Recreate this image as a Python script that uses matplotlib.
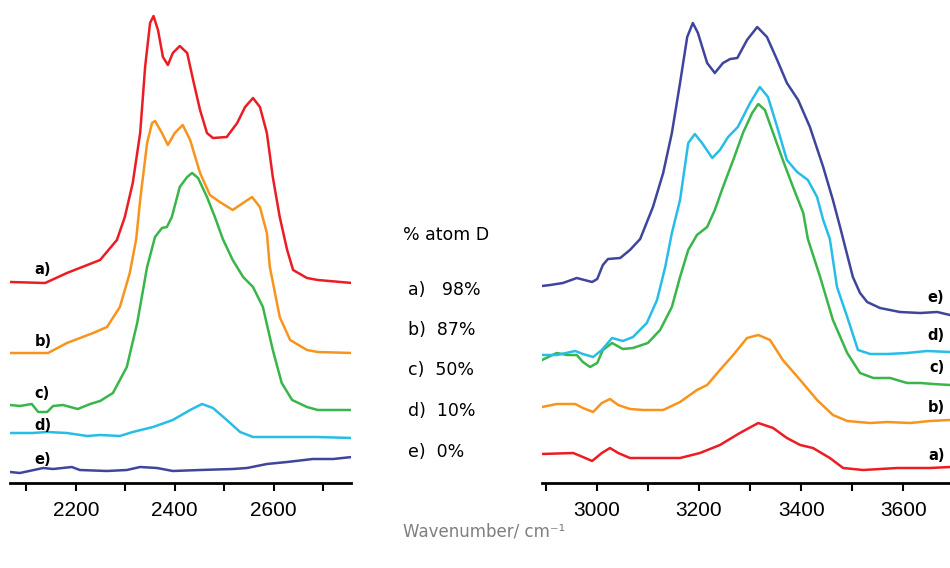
import matplotlib.pyplot as plt
import numpy as np

# --- left panel: O-D stretch region (wavenumber, intensity in arbitrary units) ---
wn_a_L = [2067, 2138, 2182, 2249, 2283, 2299, 2315, 2330, 2340, 2350, 2357, 2366, 2376, 2386, 2396,
          2410, 2425, 2437, 2451, 2465, 2477, 2505, 2526, 2542, 2558, 2572, 2586, 2598, 2612, 2627,
          2639, 2667, 2689, 2758]
a_L = [201, 200, 210, 223, 243, 266, 300, 350, 416, 460, 467, 453, 426, 418, 430,
       437, 430, 403, 373, 350, 345, 346, 360, 376, 385, 376, 350, 306, 266, 233,
       213, 205, 203, 200]

wn_b_L = [2067, 2122, 2144, 2182, 2235, 2263, 2289, 2309, 2322, 2330, 2344, 2354, 2360, 2374, 2386,
          2400, 2416, 2431, 2451, 2471, 2491, 2517, 2538, 2556, 2572, 2586, 2592, 2612, 2633, 2667,
          2689, 2758]
b_L = [130, 130, 130, 140, 150, 156, 176, 210, 244, 283, 340, 360, 362, 350, 338,
       350, 358, 343, 310, 288, 281, 273, 280, 286, 276, 250, 216, 166, 143, 133,
       131, 130]

wn_c_L = [2067, 2087, 2111, 2124, 2142, 2154, 2174, 2204, 2229, 2249, 2275, 2303, 2324, 2344, 2360,
          2374, 2384, 2394, 2410, 2425, 2435, 2447, 2465, 2481, 2497, 2517, 2538, 2558, 2578, 2598,
          2616, 2637, 2667, 2689, 2758]
c_L = [78, 77, 79, 71, 71, 77, 78, 74, 79, 82, 90, 116, 160, 216, 246,
       255, 256, 266, 296, 306, 310, 305, 286, 266, 244, 223, 206, 196, 176, 133,
       100, 83, 76, 73, 73]

wn_d_L = [2067, 2113, 2142, 2182, 2223, 2249, 2289, 2315, 2356, 2396, 2431, 2455, 2477, 2505, 2532,
          2558, 2598, 2687, 2758]
d_L = [50, 50, 51, 50, 47, 48, 47, 51, 56, 63, 73, 79, 75, 63, 51,
       46, 46, 46, 45]

wn_e_L = [2067, 2087, 2134, 2154, 2192, 2208, 2263, 2303, 2330, 2364, 2396, 2451, 2517, 2546, 2586,
          2627, 2679, 2720, 2758]
e_L = [11, 10, 15, 14, 16, 13, 12, 13, 16, 15, 12, 13, 14, 15, 19,
       21, 24, 24, 26]

# --- right panel: O-H stretch region ---
wn_a_R = [2893, 2954, 2973, 2991, 3010, 3026, 3042, 3065, 3091, 3163, 3202, 3241, 3280, 3316, 3345,
          3372, 3398, 3423, 3456, 3482, 3521, 3588, 3652, 3691]
a_R = [29, 30, 26, 22, 30, 35, 30, 25, 25, 25, 30, 38, 50, 60, 55,
       45, 38, 35, 25, 15, 13, 15, 15, 16]

wn_b_R = [2893, 2922, 2958, 2973, 2993, 3010, 3026, 3042, 3065, 3091, 3130, 3163, 3196, 3216, 3241,
          3267, 3294, 3316, 3339, 3364, 3398, 3431, 3462, 3490, 3535, 3568, 3613, 3652, 3691]
b_R = [76, 79, 79, 75, 71, 80, 84, 78, 74, 73, 73, 81, 93, 98, 113,
       128, 145, 148, 143, 123, 103, 83, 68, 62, 60, 61, 60, 62, 63]

wn_c_R = [2893, 2922, 2942, 2961, 2973, 2987, 3001, 3012, 3030, 3051, 3071, 3100, 3124, 3147, 3163,
          3179, 3196, 3216, 3231, 3247, 3267, 3286, 3304, 3316, 3329, 3345, 3364, 3384, 3404, 3413,
          3437, 3462, 3490, 3515, 3541, 3574, 3607, 3633, 3658, 3691]
c_R = [123, 130, 128, 128, 121, 116, 120, 133, 140, 134, 135, 140, 153, 176, 206,
       233, 248, 256, 273, 296, 323, 350, 370, 379, 373, 350, 323, 296, 270, 244,
       206, 163, 130, 110, 105, 105, 100, 100, 99, 98]

wn_d_R = [2893, 2922, 2958, 2973, 2993, 3010, 3030, 3051, 3071, 3098, 3118, 3134, 3147, 3163, 3179,
          3192, 3206, 3226, 3241, 3257, 3276, 3300, 3319, 3335, 3353, 3372, 3392, 3413, 3431, 3443,
          3456, 3470, 3490, 3511, 3535, 3568, 3607, 3646, 3691]
d_R = [128, 128, 132, 129, 126, 133, 145, 142, 146, 160, 183, 216, 250, 283, 340,
       349, 340, 325, 333, 346, 356, 380, 396, 386, 356, 323, 311, 303, 286, 263,
       244, 196, 166, 133, 129, 129, 130, 132, 131]

wn_e_R = [2893, 2909, 2934, 2961, 2991, 3001, 3012, 3022, 3046, 3065, 3085, 3110, 3130, 3147, 3163,
          3177, 3188, 3198, 3216, 3231, 3247, 3261, 3275, 3294, 3314, 3333, 3353, 3372, 3394, 3417,
          3443, 3462, 3476, 3501, 3515, 3529, 3554, 3593, 3633, 3666, 3691]
e_R = [197, 198, 200, 205, 201, 204, 218, 224, 225, 233, 244, 276, 310, 350, 400,
       446, 460, 450, 420, 410, 420, 424, 425, 443, 456, 446, 423, 400, 383, 356,
       316, 283, 256, 206, 190, 181, 175, 171, 170, 171, 168]

labels = ['a)', 'b)', 'c)', 'd)', 'e)']
percent = ['98%', '87%', '50%', '10%', '0%']
colors = ['#ec1c24', '#f7941d', '#39b54a', '#27bde6', '#3f459c']

fig = plt.figure(figsize=(9.5, 5.68), dpi=100)
axL = fig.add_axes([10 / 950, 85 / 568, 341 / 950, 483 / 568])
axR = fig.add_axes([542 / 950, 85 / 568, 408 / 950, 483 / 568])

left = [(wn_a_L, a_L), (wn_b_L, b_L), (wn_c_L, c_L), (wn_d_L, d_L), (wn_e_L, e_L)]
right = [(wn_a_R, a_R), (wn_b_R, b_R), (wn_c_R, c_R), (wn_d_R, d_R), (wn_e_R, e_R)]

for (x, y), col in zip(left, colors):
    axL.plot(x, y, color=col, lw=1.8, solid_joinstyle='round')
for (x, y), col in zip(right, colors):
    axR.plot(x, y, color=col, lw=1.8, solid_joinstyle='round')

# curve labels
lab_yL = [214, 142, 90, 57, 24]
lab_yR = [27, 76, 115, 148, 185]
for lab, yl, yr in zip(labels, lab_yL, lab_yR):
    axL.text(2117, yl, lab, fontsize=10.5, fontweight='bold', va='center', ha='left')
    axR.text(3680, yr, lab, fontsize=10.5, fontweight='bold', va='center', ha='right')

for ax, xl, maj in [(axL, (2067, 2756), [2200, 2400, 2600]),
                    (axR, (2893, 3691), [3000, 3200, 3400, 3600])]:
    ax.set_xticks(maj)
    ax.set_xticks(np.arange(2100, 3800, 100), minor=True)
    ax.set_xlim(*xl)
    ax.set_ylim(0, 483)
    for s in ['left', 'right', 'top']:
        ax.spines[s].set_visible(False)
    ax.spines['bottom'].set_linewidth(2)
    ax.set_yticks([])
    ax.tick_params(axis='x', which='both', direction='out', length=6, width=1.5, pad=7,
                   labelsize=15)
    for t in ax.get_xticklabels():
        t.set_family('Liberation Sans')
    ax.patch.set_visible(False)

# legend text in the middle
fig.text(403 / 950, 1 - 235 / 568, '% atom D', fontsize=12.5, va='center', ha='left')
leg_y = [290, 330, 370, 411, 452]
for lab, pc, yy in zip(labels, percent, leg_y):
    gap = '   ' if lab == 'a)' else '  '
    fig.text(408 / 950, 1 - yy / 568, lab + gap + pc, fontsize=12.5, va='center', ha='left')

fig.text(403 / 950, 1 - 531 / 568, 'Wavenumber/ cm⁻¹', fontsize=12, color='#7f7f7f',
         va='center', ha='left')

fig.savefig('out.png', dpi=100)
